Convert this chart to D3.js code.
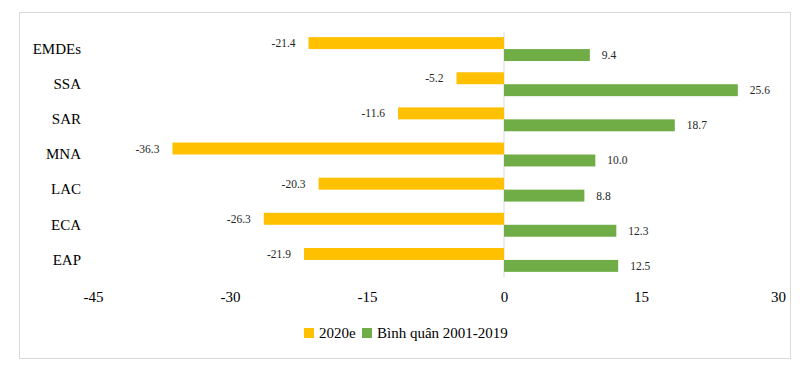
<!DOCTYPE html>
<html>
<head>
<meta charset="utf-8">
<script src="https://cdn.jsdelivr.net/npm/d3@7"></script>
<style>
  html, body { margin: 0; padding: 0; background: #fff; }
  svg { display: block; }
</style>
</head>
<body>
<svg id="chart" width="800" height="367"></svg>
<script>
const categories = ["EMDEs", "SSA", "SAR", "MNA", "LAC", "ECA", "EAP"];
const series2020 = [-21.4, -5.2, -11.6, -36.3, -20.3, -26.3, -21.9];
const seriesAvg = [9.4, 25.6, 18.7, 10.0, 8.8, 12.3, 12.5];
const seriesNames = ["2020e", "Bình quân 2001-2019"];
const xTicks = [-45, -30, -15, 0, 15, 30];
const colors = ["#FFC000", "#70AD47"];

const svg = d3.select("#chart");
const font = "Liberation Serif, Times New Roman, serif";

// frame
svg.append("rect").attr("x", 19.5).attr("y", 12.5).attr("width", 771).attr("height", 346)
  .attr("fill", "#fff").attr("stroke", "#d9d9d9").attr("stroke-width", 1);

const x = d3.scaleLinear().domain([-45, 30]).range([93, 778]);
const y = d3.scaleBand().domain(categories).range([31.5, 277.5]).paddingInner(0.32).paddingOuter(0.16);
const sub = d3.scaleBand().domain([0, 1]).range([0, y.bandwidth()]);

// zero line
svg.append("line").attr("x1", x(0)).attr("x2", x(0)).attr("y1", 31.5).attr("y2", 277.5)
  .attr("stroke", "#d9d9d9").attr("stroke-width", 1);

const rows = categories.map((c, i) => ({c, vals: [series2020[i], seriesAvg[i]]}));

rows.forEach(r => {
  r.vals.forEach((v, k) => {
    const y0 = y(r.c) + sub(k);
    svg.append("rect")
      .attr("x", Math.min(x(0), x(v)))
      .attr("y", y0)
      .attr("width", Math.abs(x(v) - x(0)))
      .attr("height", sub.bandwidth())
      .attr("fill", colors[k]);
    svg.append("text")
      .attr("x", v < 0 ? x(v) - 13 : x(v) + 12)
      .attr("y", y0 + sub.bandwidth() / 2)
      .attr("dy", "0.35em")
      .attr("text-anchor", v < 0 ? "end" : "start")
      .attr("font-family", font).attr("font-size", 11.5).attr("fill", "#262626")
      .text(v.toFixed(1));
  });
});

// category labels
const yAxis = d3.axisLeft(y).tickSize(0).tickPadding(0);
const ya = svg.append("g").attr("transform", "translate(81,0)").call(yAxis);
ya.attr("font-family", font);
ya.select(".domain").remove();
ya.selectAll("text").attr("font-family", font).attr("font-size", 15).attr("fill", "#000");

// x axis
const xAxis = d3.axisBottom(x).tickValues(xTicks).tickSize(0).tickPadding(0).tickFormat(d => String(d));
const xa = svg.append("g").attr("transform", "translate(0,291)").call(xAxis);
xa.attr("font-family", font);
xa.select(".domain").remove();
xa.selectAll("text").attr("font-family", font).attr("font-size", 15).attr("fill", "#000");

// legend
const legX = [304, 362];
seriesNames.forEach((n, k) => {
  svg.append("rect").attr("x", legX[k]).attr("y", 328).attr("width", 10).attr("height", 10).attr("fill", colors[k]);
  svg.append("text").attr("x", legX[k] + 15).attr("y", 333).attr("dy", "0.35em")
    .attr("font-family", font).attr("font-size", 15).attr("fill", "#000").text(n);
});
</script>
</body>
</html>
